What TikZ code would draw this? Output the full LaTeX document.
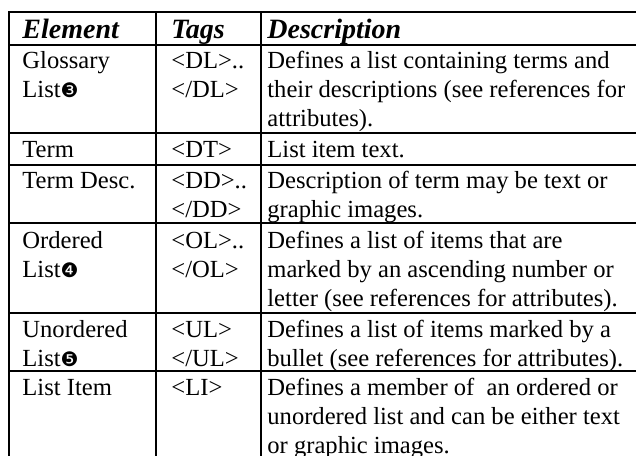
\documentclass[tikz,border=0pt]{standalone}
\usepackage{fontspec}
\setmainfont{Liberation Serif}
\newfontfamily\dingfont{DejaVu Sans}
\newcommand{\circnum}[1]{{\dingfont\fontsize{10}{10}\selectfont #1}}
\begin{document}
\begin{tikzpicture}[x=0.5pt,y=-0.5pt,
  rule/.style={line width=1.4pt,line cap=rect},
  % multi-line cells are placed by the baseline of their last line
  cell/.style={anchor=base west,inner sep=0pt,align=left,
    font=\fontsize{12.3}{14.5}\selectfont},
  head/.style={cell,font=\fontsize{14}{14.5}\selectfont\bfseries\itshape}]
\useasboundingbox (0,0) rectangle (636,455);
% grid of rules
\draw[rule] (9,12) -- (640,12);
\foreach \y in {45,133,165,223,313,371}
  \draw[rule] (9,\y) -- (640,\y);
\foreach \x in {9,156,261}
  \draw[rule] (\x,12) -- (\x,460);
% header
\node[head] (hElem) at (22,38) {Element};
\node[head] (hTags) at (171,38) {Tags};
\node[head] (hDesc) at (267,38) {Description};
% glossary list
\node[cell] (e1) at (22,97) {Glossary\\List\circnum{❸}};
\node[cell] (t1) at (171,97) {<DL>..\\</DL>};
\node[cell] (d1) at (267,126) {Defines a list containing terms and\\their descriptions (see references for\\attributes).};
% term
\node[cell] (e2) at (22,157) {Term};
\node[cell] (t2) at (171,157) {<DT>};
\node[cell] (d2) at (267,157) {List item text.};
% term description
\node[cell] (e3) at (22,188) {Term Desc.};
\node[cell] (t3) at (171,217) {<DD>..\\</DD>};
\node[cell] (d3) at (267,217) {Description of term may be text or\\graphic images.};
% ordered list
\node[cell] (e4) at (22,277) {Ordered\\List\circnum{❹}};
\node[cell] (t4) at (171,277) {<OL>..\\</OL>};
\node[cell] (d4) at (267,306) {Defines a list of items that are\\marked by an ascending number or\\letter (see references for attributes).};
% unordered list
\node[cell] (e5) at (22,366) {Unordered\\List\circnum{❺}};
\node[cell] (t5) at (171,366) {<UL>\\</UL>};
\node[cell] (d5) at (267,366) {Defines a list of items marked by a\\bullet (see references for attributes).};
% list item
\node[cell] (e6) at (22,395) {List Item};
\node[cell] (t6) at (171,395) {<LI>};
\node[cell] (d6) at (267,453) {Defines a member of\ \ an ordered or\\unordered list and can be either text\\or graphic images.};
\end{tikzpicture}
\end{document}
